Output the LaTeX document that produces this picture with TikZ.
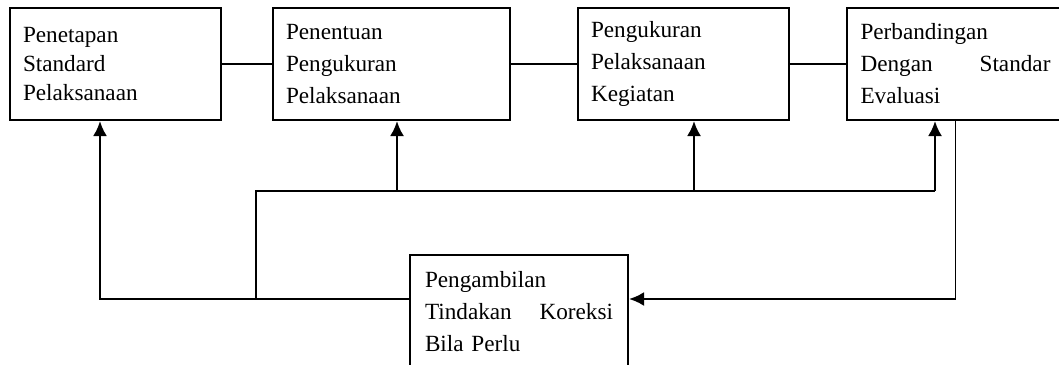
\documentclass[tikz,border=0pt]{standalone}
\usepackage{fontspec}
\setmainfont{Liberation Serif}
\usetikzlibrary{arrows.meta, calc, positioning}
\tikzset{>={Latex[length=15pt, width=14pt]}}
\tikzset{box/.style = {draw, line width=2pt, minimum height=112pt, inner sep=0pt,
    align=left, font=\fontsize{23.2}{32}\selectfont}}
\tikzset{link/.style = {line width=1.6pt}}
\tikzset{flow/.style = {line width=2.4pt}}

\begin{document}
\begin{tikzpicture}[x=1pt, y=-1pt]
  \path[use as bounding box, clip] (0,0) rectangle (1059,364);
  % kotak atas
  \node[box, minimum width=211pt, text width=185pt, font=\fontsize{23.2}{29}\selectfont] (pst) at (115.5,64)
    {Penetapan\\Standard\\Pelaksanaan};
  \node[box, minimum width=237pt, text width=211pt] (pnt) at (391.5,64)
    {Penentuan\\Pengukuran\\Pelaksanaan};
  \node[box, minimum width=211pt, text width=185pt] (pkr) at (683.5,64)
    {Pengukuran\\Pelaksanaan\\Kegiatan};
  \node[box, minimum width=217pt, text width=190pt] (evl) at (955.5,64)
    {Perbandingan\\Dengan\hfill Standar\\Evaluasi};
  % kotak koreksi
  \node[box, minimum width=218pt, text width=188pt, minimum height=114pt] (krk) at (519,312)
    {Pengambilan\\Tindakan\hfill Koreksi\\Bila Perlu};
  \coordinate (krkw) at ([yshift=-45pt]krk.north west);
  \coordinate (krke) at ([yshift=-45pt]krk.north east);
  \coordinate (fork) at (256,191);
  \coordinate (pstin) at ([xshift=-15.5pt]pst.south);
  \coordinate (pntin) at ([xshift=5.5pt]pnt.south);
  \coordinate (pkrin) at ([xshift=10.5pt]pkr.south);
  \coordinate (evlin) at ([xshift=-20.5pt]evl.south);

  \foreach \i/\o in {pst/pnt, pnt/pkr, pkr/evl}
  {
    \draw[link] (\i.east) -- (\o.west);
  }
  \draw[flow, ->] (krkw) -| (pstin);
  \draw[flow] (fork |- krkw) -- (fork) -- (fork -| evlin);
  \foreach \n in {pntin, pkrin, evlin}
  {
    \draw[flow, ->] (fork -| \n) -- (\n);
  }
  \draw[line width=1.2pt] (evl.south) -- (evl.south |- krke);
  \draw[flow, ->] (evl.south |- krke) -- (krke);
\end{tikzpicture}
\end{document}
